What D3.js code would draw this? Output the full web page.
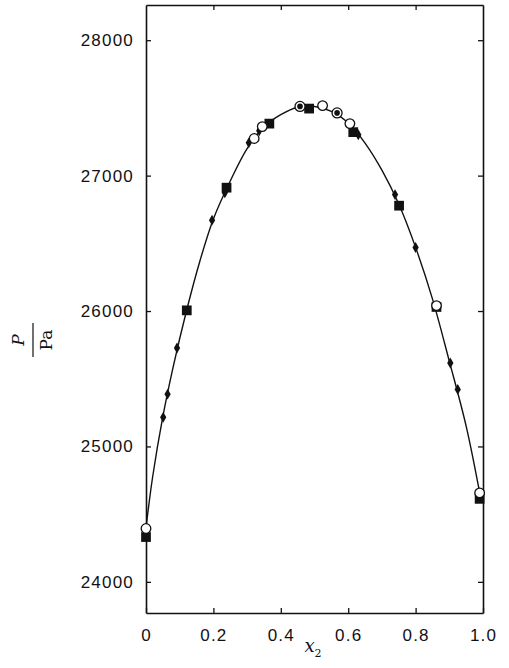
<!DOCTYPE html>
<html>
  <head>
    <meta charset="utf-8">
    <title>P vs x2</title>
    <style>
      body { margin: 0; background: white; }
      .tick text { font-family: "Liberation Sans", Arial, sans-serif; font-size: 17px; letter-spacing: 1.2px; fill: #111; }
      .tick line { stroke: #111; stroke-width: 1.3; }
      .domain { stroke: #111; stroke-width: 1.6; }
      .lab { font-family: "DejaVu Serif", "Liberation Serif", serif; fill: #111; }
    </style>
  </head>
  <body>
    <svg width="509" height="668"></svg>
    <script src="https://cdn.jsdelivr.net/npm/d3@7"></script>
    <script>
      // smooth curve
      const curveX = [0, 0.02, 0.05, 0.08, 0.12, 0.16, 0.2, 0.25, 0.3, 0.35, 0.4, 0.45, 0.5, 0.55, 0.6, 0.65, 0.7, 0.75, 0.8, 0.85, 0.9, 0.95, 0.99];
      const curveP = [24400, 24780, 25220, 25580, 26000, 26370, 26680, 26960, 27200, 27360, 27450, 27505, 27510, 27475, 27390, 27240, 27040, 26790, 26470, 26090, 25630, 25150, 24660];

      // measured points
      const diamondX = [0.051, 0.064, 0.092, 0.196, 0.234, 0.305, 0.336, 0.630, 0.739, 0.800, 0.903, 0.925];
      const diamondP = [25215, 25386, 25727, 26671, 26873, 27242, 27331, 27302, 26860, 26469, 25616, 25421];

      const squareX = [0.0, 0.121, 0.239, 0.366, 0.484, 0.615, 0.751, 0.862, 0.990];
      const squareP = [24331, 26005, 26911, 27384, 27495, 27321, 26778, 26030, 24613];

      const circleX = [0.0, 0.321, 0.345, 0.524, 0.605, 0.862, 0.990];
      const circleP = [24394, 27274, 27362, 27517, 27384, 26040, 24657];

      const dotCircleX = [0.457, 0.567];
      const dotCircleP = [27511, 27463];

      const xTicks = [0, 0.2, 0.4, 0.6, 0.8, 1.0];
      const yTicks = [24000, 25000, 26000, 27000, 28000];

      const svg = d3.select("svg");
      const x = d3.scaleLinear().domain([0, 1]).range([146, 483]);
      const y = d3.scaleLinear().domain([23770, 28260]).range([613, 5]);

      const zip = (xs, ys) => xs.map((v, i) => ({x: v, p: ys[i]}));

      // axes, ticks pointing inward
      svg.append("g")
        .attr("transform", "translate(0,613)")
        .call(d3.axisBottom(x).tickValues(xTicks).tickSize(-5).tickSizeOuter(0).tickPadding(16)
          .tickFormat(d => d === 0 ? "0" : d3.format(".1f")(d)));
      svg.append("g")
        .attr("transform", "translate(0,5)")
        .call(d3.axisTop(x).tickValues(xTicks.slice(1, -1)).tickSize(-5).tickSizeOuter(0).tickFormat(""));
      svg.append("g")
        .attr("transform", "translate(146,0)")
        .call(d3.axisLeft(y).tickValues(yTicks).tickSize(-5).tickSizeOuter(0).tickPadding(12)
          .tickFormat(d3.format("d")));
      svg.append("g")
        .attr("transform", "translate(483,0)")
        .call(d3.axisRight(y).tickValues(yTicks).tickSize(-5).tickSizeOuter(0).tickFormat(""));

      // fitted curve
      svg.append("path")
        .datum(zip(curveX, curveP))
        .attr("fill", "none")
        .attr("stroke", "#111")
        .attr("stroke-width", 1.4)
        .attr("d", d3.line().x(d => x(d.x)).y(d => y(d.p)).curve(d3.curveCatmullRom));

      svg.append("g").selectAll("path")
        .data(zip(squareX, squareP))
        .join("path")
          .attr("transform", d => `translate(${x(d.x)},${y(d.p)})`)
          .attr("d", d3.symbol(d3.symbolSquare, 95))
          .attr("fill", "#111");

      svg.append("g").selectAll("path")
        .data(zip(diamondX, diamondP))
        .join("path")
          .attr("transform", d => `translate(${x(d.x)},${y(d.p)})`)
          .attr("d", d3.symbol(d3.symbolDiamond, 34))
          .attr("fill", "#111");

      svg.append("g").selectAll("circle")
        .data(zip(circleX, circleP))
        .join("circle")
          .attr("cx", d => x(d.x))
          .attr("cy", d => y(d.p))
          .attr("r", 4.8)
          .attr("fill", "white")
          .attr("stroke", "#111")
          .attr("stroke-width", 1.3);

      const dc = svg.append("g").selectAll("g")
        .data(zip(dotCircleX, dotCircleP))
        .join("g")
          .attr("transform", d => `translate(${x(d.x)},${y(d.p)})`);
      dc.append("circle").attr("r", 5).attr("fill", "white").attr("stroke", "#111").attr("stroke-width", 1.3);
      dc.append("circle").attr("r", 2.8).attr("fill", "#111");

      // axis titles
      svg.append("text")
        .attr("class", "lab")
        .attr("x", 313)
        .attr("y", 652)
        .attr("text-anchor", "middle")
        .style("font-size", "18px")
        .style("font-style", "italic")
        .text("x")
        .append("tspan")
          .attr("dy", 5)
          .style("font-size", "11px")
          .style("font-style", "normal")
          .text("2");

      const yl = svg.append("g").attr("transform", "translate(33,340) rotate(-90)");
      yl.append("text")
        .attr("class", "lab")
        .attr("y", -9)
        .attr("text-anchor", "middle")
        .style("font-size", "17px")
        .style("font-style", "italic")
        .text("P");
      yl.append("line")
        .attr("x1", -17).attr("x2", 17)
        .attr("stroke", "#111").attr("stroke-width", 1.2);
      yl.append("text")
        .attr("class", "lab")
        .attr("y", 19)
        .attr("text-anchor", "middle")
        .style("font-size", "17px")
        .text("Pa");
    </script>
  </body>
</html>
